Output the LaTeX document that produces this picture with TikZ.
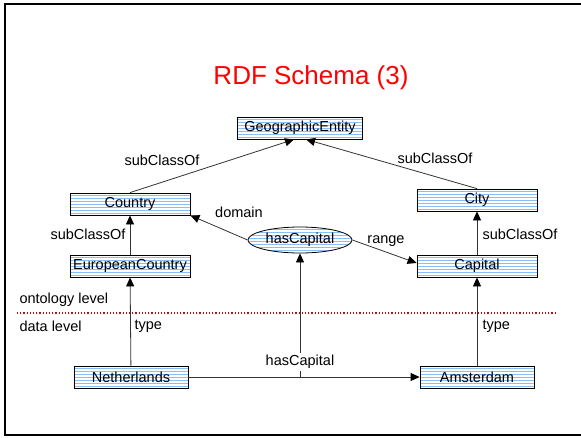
\documentclass[tikz,border=0pt]{standalone}
\usepackage{fontspec}
\setmainfont{Liberation Sans}
\usetikzlibrary{arrows.meta,shapes.geometric}
\definecolor{stripeblue}{RGB}{135,190,250}
\definecolor{levelred}{RGB}{170,20,20}
\begin{document}
\begin{tikzpicture}[x=1pt,y=-1pt,
  font=\fontsize{14.5}{16}\selectfont,
  striped/.style={path picture={
      \foreach \k in {1,...,14}
        \draw[stripeblue, line width=0.9pt]
          ([yshift=-\k*3pt+1pt]path picture bounding box.north west) --
          ([yshift=-\k*3pt+1pt]path picture bounding box.north east);}},
  cls/.style={draw, line width=0.8pt, striped, minimum width=120pt, minimum height=22pt, inner sep=1pt},
  inst/.style={cls, minimum width=114pt},
  prop/.style={draw, ellipse, line width=0.8pt, striped, minimum width=104pt, minimum height=26pt, inner sep=0pt},
  link/.style={draw=black!80, line width=0.8pt, -{Triangle[length=9pt,width=8pt,color=black]}}]
\useasboundingbox (0,0) rectangle (581,437);
% slide frame
\draw[line width=1.6pt] (581,4) -- (5,4) -- (5,435) -- (581,435);
\node[red, font=\fontsize{26}{30}\selectfont] (title) at (311,78) {RDF Schema (3)};
% classes
\node[cls, minimum width=125pt] (geo) at (300,128) {GeographicEntity};
\node[cls] (country) at (130,204) {Country};
\node[cls] (city) at (477,200) {City};
\node[cls] (euro) at (130,266) {EuropeanCountry};
\node[cls] (capital) at (477,266) {Capital};
\node[prop] (hascap) at (300,240) {hasCapital};
% instances
\node[inst] (nl) at (131,377) {Netherlands};
\node[inst] (ams) at (477,377) {Amsterdam};
\coordinate (mid) at (300,377);
% level separator
\draw[levelred, line width=1.2pt, dotted] (17,313) -- (557,313);
\node[anchor=west] (onto) at (16,300) {ontology level};
\node[anchor=west] (data) at (16,326) {data level};
% schema edges
\draw[link] (country.north) -- ([xshift=-6pt]geo.south);
\draw[link] (city.north) -- ([xshift=6pt]geo.south);
\draw[link] (euro) -- (country);
\draw[link] (capital) -- (city);
\draw[link] (hascap.west) -- (country.south east);
\draw[link] (hascap.east) -- ([yshift=3pt]capital.west);
% instance edges
\draw[link] (nl) -- (euro);
\draw[link] (ams) -- (capital);
\draw[link] (nl) -- (ams);
\draw[link] (mid) -- (hascap);
% edge labels
\node (l1) at (162,160) {subClassOf};
\node (l2) at (435,158) {subClassOf};
\node[anchor=east] (l3) at (129,234) {subClassOf};
\node[anchor=west] (l4) at (479,234) {subClassOf};
\node (l5) at (239,212) {domain};
\node (l6) at (386,241) {range};
\node[anchor=west] (l7) at (131,326) {type};
\node[anchor=west] (l8) at (479,326) {type};
\node[fill=white, inner sep=2pt] (l9) at (300,362) {hasCapital};
\end{tikzpicture}
\end{document}
